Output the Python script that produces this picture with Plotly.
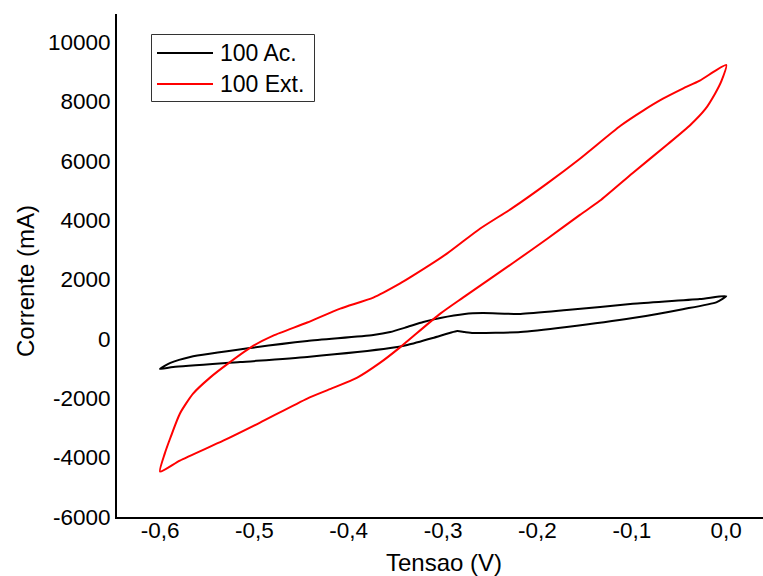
import plotly.graph_objects as go

# 100 Ac. (black loop)
ac_v = [0.0, -0.028, -0.099, -0.169, -0.218, -0.258, -0.277, -0.303, -0.321, -0.338,
        -0.356, -0.374, -0.444, -0.505, -0.568, -0.589, -0.600,
        -0.586, -0.515, -0.444, -0.356, -0.338, -0.311, -0.293, -0.285, -0.277,
        -0.268, -0.218, -0.169, -0.099, -0.046, -0.010, 0.0]
ac_i = [1440, 1340, 1180, 970, 840, 870, 840, 705, 570, 400,
        230, 130, -70, -310, -610, -810, -1010,
        -950, -780, -610, -310, -205, 30, 200, 265, 230,
        200, 230, 400, 700, 1000, 1240, 1440]

# 100 Ext. (red loop)
ext_v = [0.0, -0.028, -0.046, -0.067, -0.088, -0.112, -0.155, -0.190, -0.226, -0.261,
         -0.296, -0.332, -0.346, -0.374, -0.409, -0.444, -0.480, -0.501, -0.528, -0.547,
         -0.565, -0.579, -0.589, -0.595, -0.600,
         -0.579, -0.533, -0.494, -0.444, -0.418, -0.391, -0.367, -0.346, -0.303, -0.279, -0.226,
         -0.190, -0.155, -0.134, -0.099, -0.063, -0.038, -0.022, -0.012, -0.005, 0.0]
ext_i = [9225, 8700, 8430, 8090, 7690, 7180, 6070, 5230, 4420, 3710,
         2870, 2130, 1860, 1390, 1020, 550, 110, -230, -835, -1305,
         -1845, -2520, -3330, -3865, -4470,
         -4100, -3430, -2820, -2010, -1670, -1305, -810, -295, 850, 1390, 2555,
         3365, 4175, 4650, 5590, 6530, 7205, 7745, 8250, 8690, 9225]

series_names = ["100 Ac.", "100 Ext."]
series_colors = ["black", "#ff0000"]

x_tickvals = [-0.6, -0.5, -0.4, -0.3, -0.2, -0.1, 0.0]
x_ticktext = ["-0,6", "-0,5", "-0,4", "-0,3", "-0,2", "-0,1", "0,0"]
y_tickvals = [-6000, -4000, -2000, 0, 2000, 4000, 6000, 8000, 10000]
y_ticktext = ["-6000", "-4000", "-2000", "0", "2000", "4000", "6000", "8000", "10000"]

x_title = "Tensao (V)"
y_title = "Corrente (mA)"

FONT = "Liberation Sans, Arial, sans-serif"

# plot area in pixels
L, R, T, B = 117, 763, 14, 517
W, H = R - L, B - T


def px(xp):
    return (xp - L) / W


def py(yp):
    return (B - yp) / H


fig = go.Figure()
for xs, ys, nm, col in [(ac_v, ac_i, series_names[0], series_colors[0]),
                        (ext_v, ext_i, series_names[1], series_colors[1])]:
    fig.add_trace(go.Scatter(x=xs, y=ys, mode="lines", name=nm, showlegend=False,
                             line=dict(color=col, width=2, shape="spline", smoothing=0.6)))

# custom legend (box, line samples, labels)
shapes = [dict(type="rect", xref="paper", yref="paper",
               x0=px(151.5), x1=px(314.5), y0=py(101.5), y1=py(34.5),
               line=dict(color="#333333", width=1), fillcolor="white", layer="above")]
annotations = []
for i, (nm, col) in enumerate(zip(series_names, series_colors)):
    yy = 53 + i * 31
    shapes.append(dict(type="line", xref="paper", yref="paper",
                       x0=px(157), x1=px(213), y0=py(yy), y1=py(yy),
                       line=dict(color=col, width=2), layer="above"))
    annotations.append(dict(text=nm, xref="paper", yref="paper", x=px(218), y=py(yy),
                            xanchor="left", yanchor="middle", showarrow=False,
                            font=dict(size=23, family=FONT, color="black")))

annotations.append(dict(text=x_title, xref="paper", yref="paper", x=px(444), y=py(562),
                        xanchor="center", yanchor="middle", showarrow=False,
                        font=dict(size=24, family=FONT, color="black")))
annotations.append(dict(text=y_title, xref="paper", yref="paper", x=px(25), y=py(281),
                        xanchor="center", yanchor="middle", showarrow=False, textangle=-90,
                        font=dict(size=24, family=FONT, color="black")))

fig.update_layout(
    width=763, height=576,
    margin=dict(l=L, r=0, t=T, b=576 - B),
    paper_bgcolor="white", plot_bgcolor="white",
    font=dict(family=FONT, color="black", size=22),
    showlegend=False,
    shapes=shapes, annotations=annotations,
    xaxis=dict(range=[-0.6456, 0.039], showline=True, linecolor="black", linewidth=2,
               showgrid=False, zeroline=False, ticks="", ticklabelstandoff=-8,
               tickvals=x_tickvals, ticktext=x_ticktext, tickfont=dict(size=22.5)),
    yaxis=dict(range=[-6000, 10943], showline=True, linecolor="black", linewidth=2,
               showgrid=False, zeroline=False, ticks="",
               tickvals=y_tickvals, ticktext=y_ticktext, tickfont=dict(size=22.5)),
)

fig.write_html("out.html")
